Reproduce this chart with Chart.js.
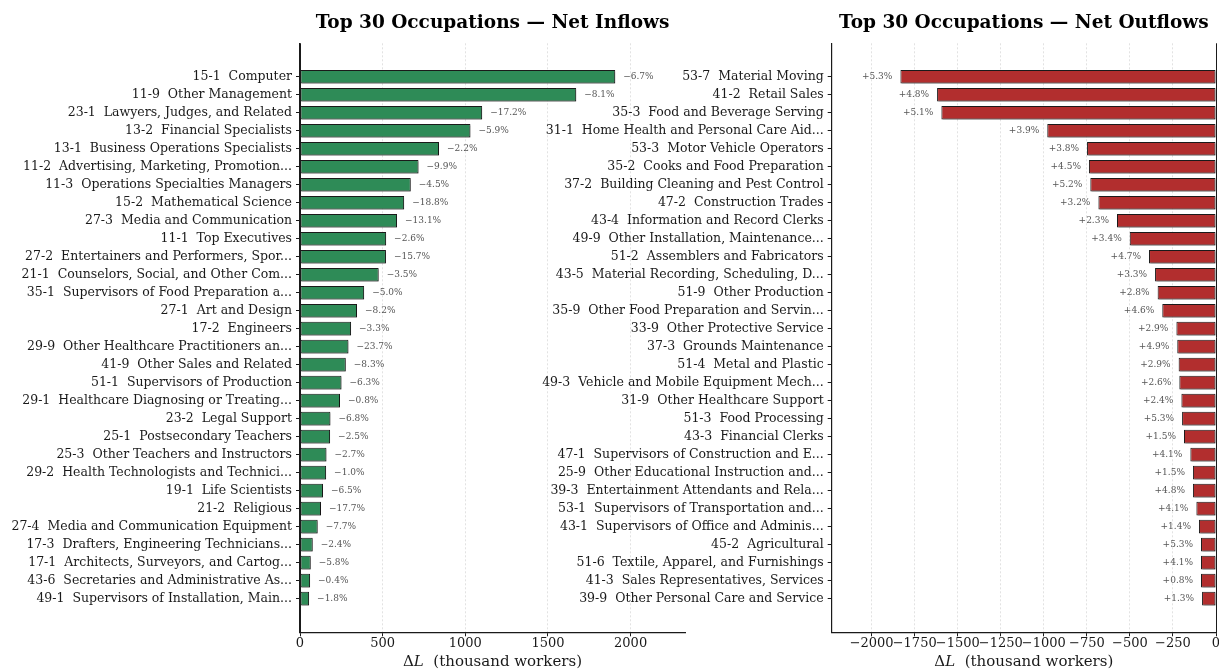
<!DOCTYPE html>
<html>
<head>
<meta charset="utf-8">
<script src="https://cdn.jsdelivr.net/npm/chart.js@4.4.0/dist/chart.umd.min.js"></script>
<style>
  body { margin: 0; background: #fff; }
  #wrap { position: relative; width: 1219px; height: 670px; overflow: hidden; }
  .panel { position: absolute; top: 0; height: 670px; }
  #left-panel { left: 0; width: 700px; }
  #right-panel { left: 500px; width: 719px; }
</style>
</head>
<body>
<div id="wrap">
  <div class="panel" id="left-panel"><canvas id="inflow-chart"></canvas></div>
  <div class="panel" id="right-panel"><canvas id="outflow-chart"></canvas></div>
</div>
<script>
const inflow_labels = [
  "15-1  Computer",
  "11-9  Other Management",
  "23-1  Lawyers, Judges, and Related",
  "13-2  Financial Specialists",
  "13-1  Business Operations Specialists",
  "11-2  Advertising, Marketing, Promotion...",
  "11-3  Operations Specialties Managers",
  "15-2  Mathematical Science",
  "27-3  Media and Communication",
  "11-1  Top Executives",
  "27-2  Entertainers and Performers, Spor...",
  "21-1  Counselors, Social, and Other Com...",
  "35-1  Supervisors of Food Preparation a...",
  "27-1  Art and Design",
  "17-2  Engineers",
  "29-9  Other Healthcare Practitioners an...",
  "41-9  Other Sales and Related",
  "51-1  Supervisors of Production",
  "29-1  Healthcare Diagnosing or Treating...",
  "23-2  Legal Support",
  "25-1  Postsecondary Teachers",
  "25-3  Other Teachers and Instructors",
  "29-2  Health Technologists and Technici...",
  "19-1  Life Scientists",
  "21-2  Religious",
  "27-4  Media and Communication Equipment",
  "17-3  Drafters, Engineering Technicians...",
  "17-1  Architects, Surveyors, and Cartog...",
  "43-6  Secretaries and Administrative As...",
  "49-1  Supervisors of Installation, Main..."
];
// change in employment, thousand workers
const inflow_values = [1907, 1671, 1102, 1031, 841, 717, 670, 630, 587, 521,
  520, 476, 388, 345, 309, 293, 277, 251, 242, 184,
  182, 160, 158, 139, 127, 107, 77, 65, 61, 55];
// relative change, percent
const inflow_shares = [-6.7, -8.1, -17.2, -5.9, -2.2, -9.9, -4.5, -18.8, -13.1, -2.6,
  -15.7, -3.5, -5.0, -8.2, -3.3, -23.7, -8.3, -6.3, -0.8, -6.8,
  -2.5, -2.7, -1.0, -6.5, -17.7, -7.7, -2.4, -5.8, -0.4, -1.8];

const outflow_labels = [
  "53-7  Material Moving",
  "41-2  Retail Sales",
  "35-3  Food and Beverage Serving",
  "31-1  Home Health and Personal Care Aid...",
  "53-3  Motor Vehicle Operators",
  "35-2  Cooks and Food Preparation",
  "37-2  Building Cleaning and Pest Control",
  "47-2  Construction Trades",
  "43-4  Information and Record Clerks",
  "49-9  Other Installation, Maintenance...",
  "51-2  Assemblers and Fabricators",
  "43-5  Material Recording, Scheduling, D...",
  "51-9  Other Production",
  "35-9  Other Food Preparation and Servin...",
  "33-9  Other Protective Service",
  "37-3  Grounds Maintenance",
  "51-4  Metal and Plastic",
  "49-3  Vehicle and Mobile Equipment Mech...",
  "31-9  Other Healthcare Support",
  "51-3  Food Processing",
  "43-3  Financial Clerks",
  "47-1  Supervisors of Construction and E...",
  "25-9  Other Educational Instruction and...",
  "39-3  Entertainment Attendants and Rela...",
  "53-1  Supervisors of Transportation and...",
  "43-1  Supervisors of Office and Adminis...",
  "45-2  Agricultural",
  "51-6  Textile, Apparel, and Furnishings",
  "41-3  Sales Representatives, Services",
  "39-9  Other Personal Care and Service"
];
const outflow_values = [-1833, -1620, -1595, -980, -749, -738, -730, -683, -575, -501,
  -389, -354, -339, -312, -230, -225, -217, -213, -201, -197,
  -186, -149, -134, -134, -114, -99, -87, -87, -87, -81];
const outflow_shares = [5.3, 4.8, 5.1, 3.9, 3.8, 4.5, 5.2, 3.2, 2.3, 3.4,
  4.7, 3.3, 2.8, 4.6, 2.9, 4.9, 2.9, 2.6, 2.4, 5.3,
  1.5, 4.1, 1.5, 4.8, 4.1, 1.4, 5.3, 4.1, 0.8, 1.3];

const SERIF = "'DejaVu Serif', serif";
const INK = '#1a1a1a';
const Y_MIN = -1.86, Y_MAX = 30.87;

// grey drop shadow behind the bars, then the % label at each bar end
const barDecor = {
  id: 'barDecor',
  beforeDatasetsDraw(chart) {
    const ctx = chart.ctx;
    ctx.save();
    ctx.shadowColor = 'rgba(0,0,0,0.25)';
    ctx.shadowOffsetX = 1.5;
    ctx.shadowOffsetY = 1.5;
  },
  afterDatasetsDraw(chart, args, opts) {
    const ctx = chart.ctx;
    ctx.restore();
    const shares = chart.data.datasets[0].shares;
    const meta = chart.getDatasetMeta(0);
    ctx.save();
    ctx.font = `9px ${SERIF}`;
    ctx.fillStyle = '#555';
    ctx.textBaseline = 'middle';
    ctx.textAlign = opts.side === 'right' ? 'left' : 'right';
    meta.data.forEach((bar, i) => {
      const s = shares[i];
      const txt = (s < 0 ? '\u2212' : '+') + Math.abs(s).toFixed(1) + '%';
      const x = opts.side === 'right' ? bar.x + 8 : bar.x - 8;
      ctx.fillText(txt, x, bar.y);
    });
    ctx.restore();
  }
};

// solid reference line at zero
const zeroLine = {
  id: 'zeroLine',
  afterDatasetsDraw(chart) {
    const {ctx, chartArea, scales} = chart;
    const x = Math.round(scales.x.getPixelForValue(0)) + 0.5;
    ctx.save();
    ctx.strokeStyle = INK;
    ctx.lineWidth = 1;
    ctx.beginPath();
    ctx.moveTo(x, chartArea.top);
    ctx.lineTo(x, chartArea.bottom);
    ctx.stroke();
    ctx.restore();
  }
};

// x axis title with italic L
const axisTitle = {
  id: 'axisTitle',
  afterDraw(chart) {
    const {ctx, chartArea} = chart;
    const parts = [['\u0394', 'normal'], ['L', 'italic'], ['  (thousand workers)', 'normal']];
    ctx.save();
    ctx.fillStyle = INK;
    ctx.textBaseline = 'middle';
    ctx.textAlign = 'left';
    let total = 0;
    parts.forEach(p => {
      ctx.font = `${p[1]} 15px ${SERIF}`;
      total += ctx.measureText(p[0]).width;
    });
    let x = (chartArea.left + chartArea.right) / 2 - total / 2;
    parts.forEach(p => {
      ctx.font = `${p[1]} 15px ${SERIF}`;
      ctx.fillText(p[0], x, chartArea.bottom + 30);
      x += ctx.measureText(p[0]).width;
    });
    ctx.restore();
  }
};

const fmtTick = v => (v < 0 ? '\u2212' + Math.abs(v) : String(v));

function makeChart(canvasId, labels, values, shares, cfg) {
  const points = values.map((v, i) => ({x: v, y: i}));
  return new Chart(document.getElementById(canvasId), {
    type: 'bar',
    data: {
      datasets: [{
        data: points,
        shares: shares,
        backgroundColor: cfg.color,
        borderColor: INK,
        borderWidth: 1,
        borderSkipped: false,
        categoryPercentage: 1,
        barPercentage: 0.76
      }]
    },
    options: {
      indexAxis: 'y',
      responsive: true,
      maintainAspectRatio: false,
      animation: false,
      layout: { padding: { right: cfg.padRight } },
      plugins: {
        legend: { display: false },
        tooltip: { enabled: false },
        title: {
          display: true,
          text: cfg.title,
          fullSize: false,
          color: '#000',
          font: { family: SERIF, size: 18.5, weight: 'bold' },
          padding: { top: 12.5, bottom: 8.6 }
        },
        barDecor: { side: cfg.side }
      },
      scales: {
        x: {
          type: 'linear',
          bounds: 'data',
          min: cfg.xMin,
          max: cfg.xMax,
          afterBuildTicks(s) {
            const ticks = [];
            for (let v = Math.ceil(cfg.xMin / cfg.step) * cfg.step; v <= cfg.xMax; v += cfg.step) {
              ticks.push({value: v});
            }
            s.ticks = ticks;
            s.min = cfg.xMin;
            s.max = cfg.xMax;
          },
          ticks: {
            autoSkip: false,
            maxRotation: 0,
            minRotation: 0,
            padding: 0,
            color: INK,
            font: { family: SERIF, size: 13 },
            callback: fmtTick
          },
          grid: { color: '#e2e2e2', lineWidth: 1, tickColor: INK, tickLength: 4 },
          border: { color: INK, width: 1.2, dash: [2, 2] },
          afterFit(s) { s.height = 37.7; s.paddingLeft = 0; s.paddingRight = 0; }
        },
        y: {
          type: 'linear',
          bounds: 'data',
          offset: false,
          reverse: true,
          min: Y_MIN,
          max: Y_MAX,
          afterBuildTicks(s) {
            s.ticks = labels.map((_, i) => ({value: i}));
            s.min = Y_MIN;
            s.max = Y_MAX;
          },
          ticks: {
            autoSkip: false,
            padding: 4,
            color: INK,
            font: { family: SERIF, size: 12.5 },
            callback: v => labels[v]
          },
          grid: { offset: false, drawOnChartArea: false, tickColor: INK, tickLength: 4 },
          border: { color: INK, width: 1.2 },
          afterFit(s) { s.width = cfg.yWidth; s.paddingTop = 0; s.paddingBottom = 0; }
        }
      }
    },
    plugins: [barDecor, zeroLine, axisTitle]
  });
}

makeChart('inflow-chart', inflow_labels, inflow_values, inflow_shares, {
  title: 'Top 30 Occupations \u2014 Net Inflows',
  color: '#2e8b57',
  side: 'right',
  xMin: 0, xMax: 2329, step: 500,
  yWidth: 300, padRight: 15
});

makeChart('outflow-chart', outflow_labels, outflow_values, outflow_shares, {
  title: 'Top 30 Occupations \u2014 Net Outflows',
  color: '#b22e2e',
  side: 'left',
  xMin: -2232, xMax: 0, step: 250,
  yWidth: 331.7, padRight: 3
});
</script>
</body>
</html>
